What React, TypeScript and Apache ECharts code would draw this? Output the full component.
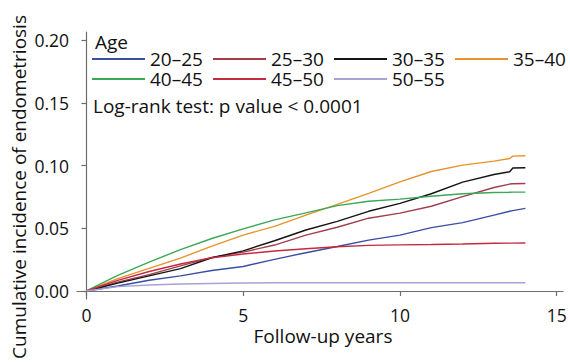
import React, { useEffect, useRef } from "react";
import * as echarts from "echarts";

const years = [0, 1, 2, 3, 4, 5, 6, 7, 8, 9, 10, 11, 12, 13, 13.5, 13.6, 14];

const age20_25 = [0, 0.004, 0.0085, 0.012, 0.0163, 0.0195, 0.0252, 0.0305, 0.0354, 0.0405, 0.0445, 0.0505, 0.0545, 0.0605, 0.0635, 0.064, 0.0658];
const age25_30 = [0, 0.007, 0.013, 0.02, 0.0268, 0.031, 0.0366, 0.0445, 0.0508, 0.058, 0.062, 0.0675, 0.0752, 0.0825, 0.0852, 0.0855, 0.0857];
const age30_35 = [0, 0.0062, 0.012, 0.0178, 0.0265, 0.032, 0.04, 0.0486, 0.0555, 0.0635, 0.0698, 0.0775, 0.0868, 0.0928, 0.095, 0.098, 0.0982];
const age35_40 = [0, 0.0098, 0.018, 0.0262, 0.0358, 0.0445, 0.0515, 0.0605, 0.069, 0.0778, 0.087, 0.0952, 0.1003, 0.1035, 0.1056, 0.1075, 0.1078];
const age40_45 = [0, 0.0125, 0.023, 0.033, 0.0418, 0.0495, 0.0567, 0.0622, 0.068, 0.0715, 0.0732, 0.0755, 0.0775, 0.0785, 0.0787, 0.0788, 0.0788];
const age45_50 = [0, 0.0085, 0.0155, 0.0215, 0.0265, 0.0295, 0.0318, 0.0337, 0.0353, 0.0363, 0.0367, 0.037, 0.0374, 0.038, 0.0381, 0.0381, 0.0382];
const age50_55 = [0, 0.0035, 0.0048, 0.0056, 0.006, 0.0063, 0.0065, 0.0066, 0.0066, 0.0066, 0.0066, 0.0066, 0.0066, 0.0066, 0.0066, 0.0066, 0.0066];

const groupNames = ["20–25", "25–30", "30–35", "35–40", "40–45", "45–50", "50–55"];
const groupValues = [age20_25, age25_30, age30_35, age35_40, age40_45, age45_50, age50_55];
const groupColors = ["#3b4ea3", "#a23e4c", "#141414", "#e8922c", "#3aa857", "#c42a40", "#a6a2d6"];

const xTicks = [0, 5, 10, 15];
const yTicks = [0, 0.05, 0.1, 0.15, 0.2];

const FONT = "Open Sans";
const FS = 17.5;
const FT = 19;

export default function App() {
  const ref = useRef<HTMLDivElement>(null);
  useEffect(() => {
    if (!ref.current) return;
    const chart = echarts.init(ref.current, undefined, { renderer: "svg" });
    const legendPos = [
      [92, 49.5], [213, 49.5], [334, 49.5], [455, 49.5],
      [92, 69.5], [213, 69.5], [334, 69.5],
    ];
    const legends = groupNames.map((n, i) => ({
      show: true,
      data: [n],
      left: legendPos[i][0],
      top: legendPos[i][1],
      padding: 0,
      itemWidth: 53,
      itemHeight: 2,
      itemGap: 0,
      icon: "rect",
      selectedMode: false,
      textStyle: { fontFamily: FONT, fontSize: FT, color: "#111", lineHeight: 19 },
    }));
    const axisLineStyle = { color: "#6e6e6e", width: 1.2 };
    chart.setOption({
      animation: false,
      backgroundColor: "#fff",
      grid: { left: 77, right: 7, top: 32, bottom: 63 },
      legend: legends,
      xAxis: {
        type: "value",
        min: -0.3,
        max: 15.2,
        splitLine: { show: false },
        axisLine: { show: true, lineStyle: axisLineStyle },
        axisTick: { show: true, length: 5, lineStyle: axisLineStyle, customValues: xTicks },
        axisLabel: { customValues: xTicks, margin: 7, fontFamily: FONT, fontSize: FS, color: "#111" },
      },
      yAxis: {
        type: "value",
        min: -0.0064,
        max: 0.2064,
        splitLine: { show: false },
        axisLine: { show: true, lineStyle: axisLineStyle },
        axisTick: { show: true, length: 5, lineStyle: axisLineStyle, customValues: yTicks },
        axisLabel: {
          customValues: yTicks,
          margin: 8,
          fontFamily: FONT,
          fontSize: FS,
          color: "#111",
          formatter: (v: number) => v.toFixed(2),
        },
      },
      graphic: [
        {
          type: "text",
          x: 95,
          y: 42,
          style: { text: "Age", fontFamily: FONT, fontSize: FT, fill: "#111", align: "left", verticalAlign: "middle", textAlign: "left", textVerticalAlign: "middle" },
        },
        {
          type: "text",
          x: 93,
          y: 106,
          style: { text: "Log-rank test: p value < 0.0001", fontFamily: FONT, fontSize: FT, fill: "#111", align: "left", verticalAlign: "middle", textAlign: "left", textVerticalAlign: "middle" },
        },
        {
          type: "text",
          x: 323,
          y: 336,
          style: { text: "Follow-up years", fontFamily: FONT, fontSize: FT, fill: "#111", align: "center", verticalAlign: "middle", textAlign: "center", textVerticalAlign: "middle" },
        },
        {
          type: "text",
          x: 19,
          y: 187,
          rotation: Math.PI / 2,
          style: { text: "Cumulative incidence of endometriosis", fontFamily: FONT, fontSize: FT, fill: "#111", align: "center", verticalAlign: "middle", textAlign: "center", textVerticalAlign: "middle" },
        },
      ],
      series: groupNames.map((n, i) => ({
        name: n,
        type: "line",
        symbol: "none",
        silent: true,
        color: groupColors[i],
        lineStyle: { color: groupColors[i], width: 1.4 },
        data: years.map((t, k) => [t, groupValues[i][k]]),
      })),
    });
    return () => chart.dispose();
  }, []);
  return <div ref={ref} style={{ position: "fixed", left: 0, top: 0, width: 570, height: 362 }} />;
}
